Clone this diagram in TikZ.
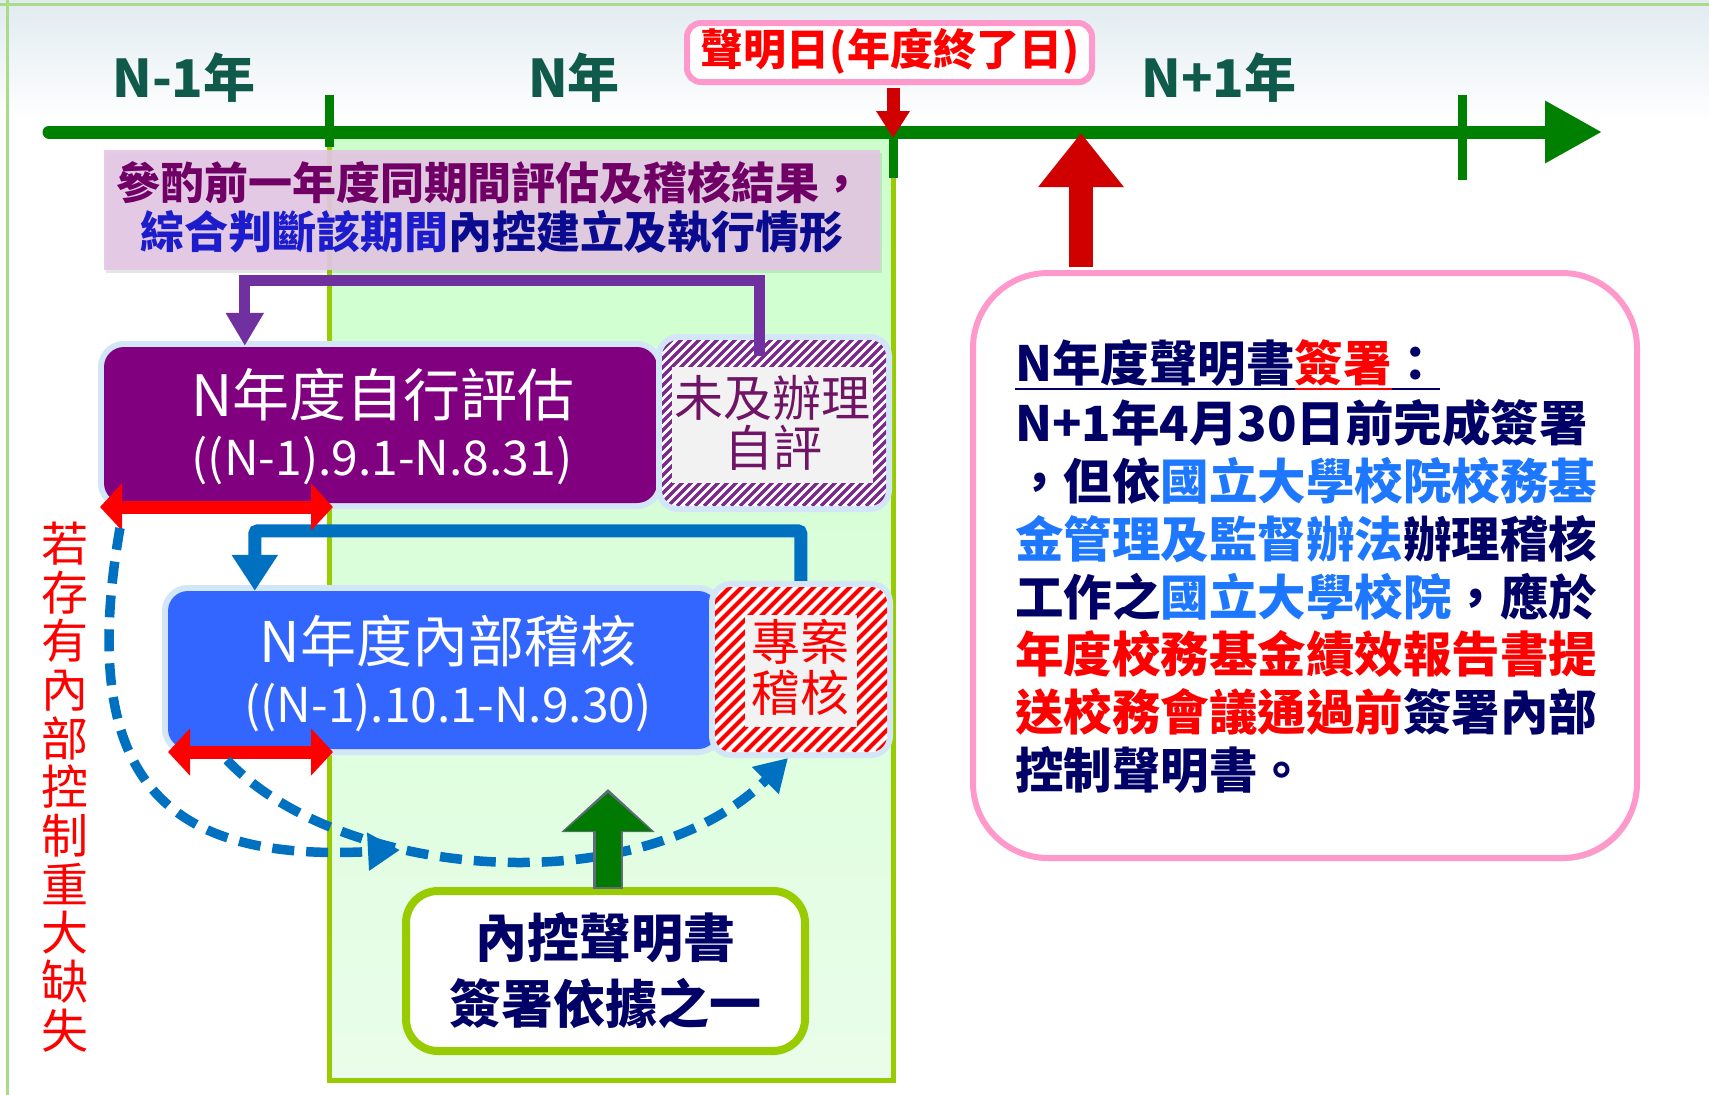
\documentclass[tikz,border=0pt]{standalone}
\usepackage{fontspec}
\setmainfont{Noto Sans CJK TC}
\usetikzlibrary{arrows.meta,calc,shadows}
\definecolor{ctl}{HTML}{008000}
\definecolor{ctltext}{HTML}{0F5A4B}
\definecolor{cbandtop}{HTML}{CCFFCC}
\definecolor{cbandbot}{HTML}{EAFDEA}
\definecolor{cbandline}{HTML}{99CC00}
\definecolor{cpbox}{HTML}{800080}
\definecolor{cplight}{HTML}{E3C6E3}
\definecolor{cptext}{HTML}{700066}
\definecolor{cblue1}{HTML}{1C1CCC}
\definecolor{cblue2}{HTML}{0B0B8F}
\definecolor{cpconn}{HTML}{7030A0}
\definecolor{cbconn}{HTML}{0070C0}
\definecolor{cbbox}{HTML}{3366FF}
\definecolor{cglow}{HTML}{D2E6F8}
\definecolor{cpink}{HTML}{FF99CC}
\definecolor{cnavy}{HTML}{000066}
\definecolor{clblue}{HTML}{1E78FF}
\definecolor{cred}{HTML}{FF0000}
\definecolor{cdred}{HTML}{D00000}
\definecolor{cgarrow}{HTML}{007A00}
\definecolor{cgout}{HTML}{5E6E78}
\definecolor{cinner}{HTML}{F2F2F2}
\definecolor{cframe}{HTML}{A8DC88}
\definecolor{cbgtop}{HTML}{E0EBF0}
\definecolor{cstripe}{HTML}{7A2A8A}
\definecolor{cntext}{HTML}{701466}
\newcommand\myul[1]{\setbox0\hbox{#1}\rlap{\rule[-9pt]{\wd0}{2pt}}\box0}
\begin{document}
\begin{tikzpicture}[x=1pt,y=-1pt,
  tx/.style={inner sep=0pt},
  glow/.style={preaction={draw=cglow,line width=12pt}},
  phatch/.style={path picture={\foreach \k in {0,...,52}{\draw[cstripe,line width=3.4pt] ($(path picture bounding box.south west)+(\k*9-210,0)$) -- ++(260,-260);}}},
  rhatch/.style={path picture={\foreach \k in {0,...,36}{\draw[cred,line width=4pt] ($(path picture bounding box.south west)+(\k*12-210,0)$) -- ++(260,-260);}}},
  redda/.style={draw=cred,line width=13pt,{Triangle[length=22pt,width=46pt]}-{Triangle[length=22pt,width=46pt]}},
  dcurve/.style={draw=cbconn,line width=9.5pt,dash pattern=on 22pt off 12pt,-{Triangle[length=32pt,width=36pt]}},
  shad/.style={drop shadow={shadow xshift=2pt,shadow yshift=-3pt,opacity=0.3,fill=black!60}}]
\useasboundingbox (0,0) rectangle (1709,1095);
\fill[white] (0,0) rectangle (1709,1095);
\shade[top color=cbgtop,bottom color=white] (0,0) rectangle (1709,120);
\draw[cframe,line width=3pt] (0,4) -- (1709,4);
\draw[cframe,line width=3pt] (7,0) -- (7,1095);
% green band (year N)
\shade[top color=cbandtop,bottom color=cbandbot] (329,138) rectangle (893,1080);
\draw[cbandline,line width=5pt] (329,147) -- (329,1080) -- (893,1080) -- (893,178);
% timeline
\coordinate (tlL) at (49,132);
\coordinate (tlR) at (1602,132);
\draw[ctl,line width=13pt,line cap=round,-{Triangle[length=57pt,width=59pt]}] (tlL) -- (tlR);
\draw[ctl,line width=9pt] (329,95) -- (329,147);
\draw[ctl,line width=9pt] (893,120) -- (893,178);
\draw[ctl,line width=9pt] (1462,95) -- (1462,180);
\node[tx,font=\fontsize{52}{56}\selectfont\bfseries,text=ctltext] (y1) at (184,78) {N-1年};
\node[tx,font=\fontsize{52}{56}\selectfont\bfseries,text=ctltext] (y2) at (574,78) {N年};
\node[tx,font=\fontsize{52}{56}\selectfont\bfseries,text=ctltext] (y3) at (1219,78) {N+1年};
% light purple note
\node[fill=cplight,fill opacity=0.9,minimum width=776pt,minimum height=120pt,inner sep=0pt,
  drop shadow={shadow xshift=2pt,shadow yshift=-3pt,opacity=0.2,fill=black!50}] (pl) at (492,210) {};
\node[tx,font=\fontsize{44}{48}\selectfont\bfseries,text=cptext] (pl1) at (490,183) {參酌前一年度同期間評估及稽核結果，};
\node[tx,font=\fontsize{44}{48}\selectfont\bfseries] (pl2) at (492,232) {{\color{cblue1}綜合判斷該期間}{\color{cblue2}內控建立及執行情形}};
% self assessment boxes
\node[fill=cpbox,rounded corners=20pt,minimum width=553pt,minimum height=156pt,glow] (pb) at (380.5,425) {};
\node[fill=white,rounded corners=16pt,minimum width=224pt,minimum height=166pt,glow,phatch] (nb) at (774,423) {};
\draw[cpconn,line width=11pt,-{Triangle[length=33pt,width=36pt]}] ($(nb.north)+(-15,16)$) -- ++(0,-75) -| ($(pb.north west)+(141,-1)$);
\node[fill=cinner,minimum width=201pt,minimum height=116pt,inner sep=0pt] (nbin) at (772.5,425) {};
\node[tx,font=\fontsize{57}{60}\selectfont,text=white] (pbt1) at (383,395) {N年度自行評估};
\node[tx,font=\fontsize{48}{50}\selectfont,text=white] (pbt2) at (382,461) {((N-1).9.1-N.8.31)};
\node[tx,font=\fontsize{49}{50}\selectfont,text=cntext] (nbt1) at (772,398) {未及辦理};
\node[tx,font=\fontsize{49}{50}\selectfont,text=cntext] (nbt2) at (773,448) {自評};
% internal audit boxes
\node[fill=cbbox,rounded corners=20pt,minimum width=550pt,minimum height=158pt,glow] (bb) at (443,670) {};
\draw[cbconn,line width=13pt,rounded corners=3pt,-{Triangle[length=36pt,width=44pt]}] ($(bb.north west)+(633,-4)$) -- ++(0,-56) -| ($(bb.north west)+(87,0)$);
\node[fill=white,rounded corners=16pt,minimum width=172pt,minimum height=165pt,glow,rhatch] (pj) at (801,669.5) {};
\node[fill=cinner,minimum width=112pt,minimum height=112pt,inner sep=0pt] (pjin) at (801,671) {};
\node[tx,font=\fontsize{56}{60}\selectfont,text=white] (bbt1) at (448,641) {N年度內部稽核};
\node[tx,font=\fontsize{48}{50}\selectfont,text=white] (bbt2) at (448,708) {((N-1).10.1-N.9.30)};
\node[tx,font=\fontsize{49}{50}\selectfont,text=cred] (pjt1) at (800,642) {專案};
\node[tx,font=\fontsize{49}{50}\selectfont,text=cred] (pjt2) at (800,693) {稽核};
% red period arrows
\coordinate (ra1L) at (100,507);
\coordinate (ra1R) at (333,507);
\coordinate (ra2L) at (168,752);
\coordinate (ra2R) at (333,752);
\draw[redda] (ra1L) -- (ra1R);
\draw[redda] (ra2L) -- (ra2R);
% dashed curves
\coordinate (d1e) at (400,850);
\coordinate (d2e) at (788,758);
\draw[dcurve] ($(ra1L)+(20,21)$) .. controls (75,785) and (170,862) .. (d1e);
\draw[dcurve] ($(ra2L)+(59,8)$) .. controls (340,880) and (640,905) .. (d2e);
% statement basis box
\node[draw=cbandline,line width=8pt,fill=white,rounded corners=32pt,minimum width=399pt,minimum height=160pt,shad] (ks) at (605.5,971) {};
\coordinate (gtip) at (608,793);
\coordinate (gtipo) at (608,789);
\draw[cgout,line width=30pt,-{Triangle[length=43pt,width=91pt]}] ($(ks.north)+(2.5,2)$) -- (gtipo);
\draw[cgarrow,line width=25pt,-{Triangle[length=38pt,width=85pt]}] ($(ks.north)+(2.5,0)$) -- (gtip);
\node[tx,font=\fontsize{52}{56}\selectfont\bfseries,text=cnavy] (kst1) at (605,938) {內控聲明書};
\node[tx,font=\fontsize{52}{56}\selectfont\bfseries,text=cnavy] (kst2) at (605,1003) {簽署依據之一};
% left vertical note
\node[tx,align=center,font=\fontsize{47}{48.7}\selectfont,text=cred] (vt) at (65,787) {若\\存\\有\\內\\部\\控\\制\\重\\大\\缺\\失};
% declaration date
\node[draw=cpink,line width=6pt,fill=white,rounded corners=14pt,minimum width=405pt,minimum height=59pt,shad] (sm) at (889.5,52.5) {};
\node[tx,font=\fontsize{43}{46}\selectfont\bfseries,text=cred] (smt) at (890,51) {聲明日(年度終了日)};
\coordinate (decl) at (893,138);
\draw[cdred,line width=13pt,-{Triangle[length=27pt,width=32pt]}] ($(sm.south)+(3.5,3)$) -- (decl);
% right box
\coordinate (sigt) at (1081,133);
\node[draw=cpink,line width=6pt,fill=white,rounded corners=75pt,minimum width=664pt,minimum height=585pt,shad] (rb) at (1305,565.5) {};
\draw[cdred,line width=24pt,-{Triangle[length=54pt,width=82pt]}] ($(rb.north)+(-224,-3)$) -- (sigt);
\begin{scope}[every node/.style={tx,anchor=west,font=\fontsize{48.5}{58}\selectfont\bfseries,text=cnavy}]
\node (r1) at (1015,365) {\myul{N年度聲明書}{\color{cred}\myul{簽署}}\myul{：}};
\node (r2) at (1015,423) {N+1年4月30日前完成簽署};
\node (r3) at (1015,481) {，但依{\color{clblue}國立大學校院校務基}};
\node (r4) at (1015,539) {{\color{clblue}金管理及監督辦法}辦理稽核};
\node (r5) at (1015,597) {工作之{\color{clblue}國立大學校院}，應於};
\node (r6) at (1015,654) {{\color{cred}年度校務基金績效報告書提}};
\node (r7) at (1015,712) {{\color{cred}送校務會議通過前}簽署內部};
\node (r8) at (1015,770) {控制聲明書。};
\end{scope}
\end{tikzpicture}
\end{document}
